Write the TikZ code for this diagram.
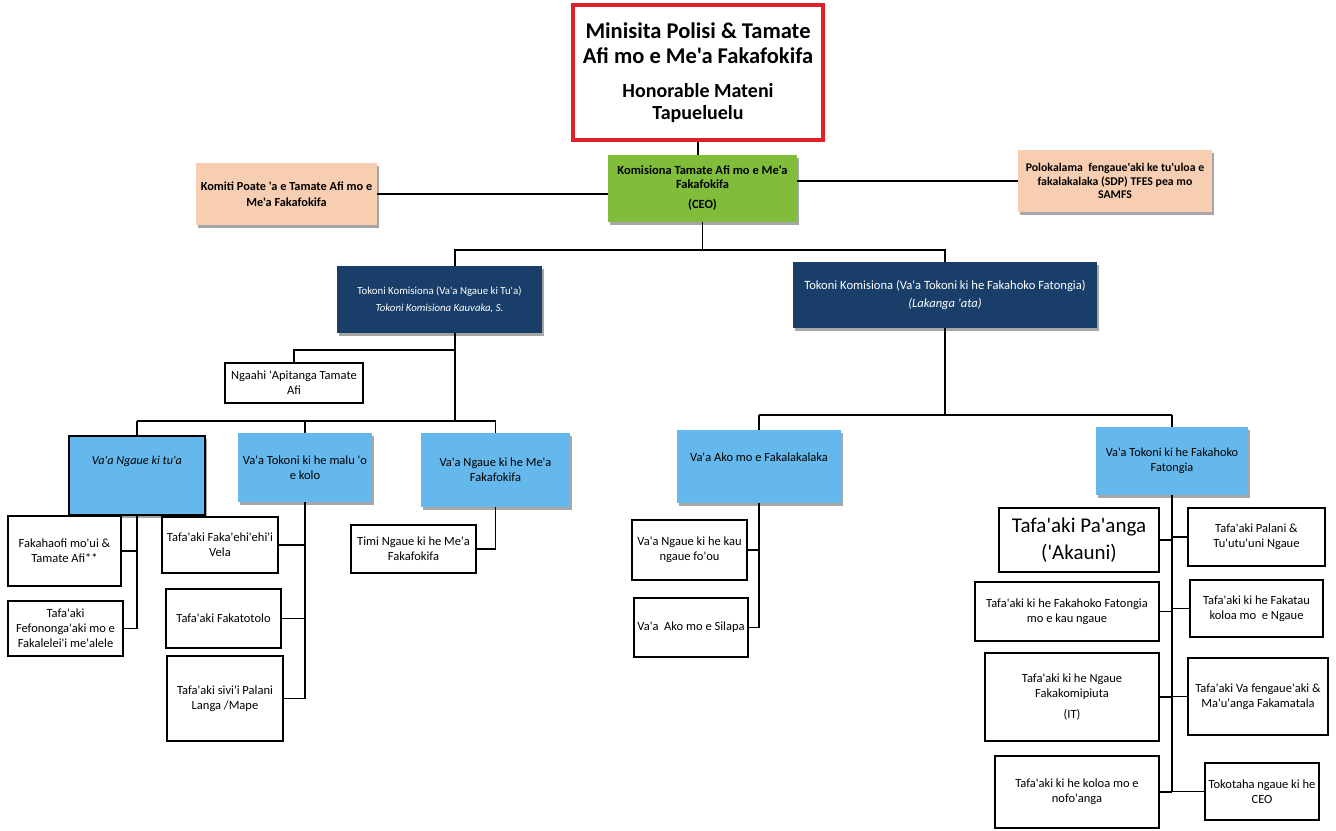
\documentclass[tikz,border=0pt]{standalone}
\usepackage{fontspec}
\setmainfont{Carlito}[Ligatures=TeXOff]
\usetikzlibrary{shadows}
\definecolor{redb}{RGB}{226,32,40}
\definecolor{greenb}{RGB}{128,189,58}
\definecolor{peach}{RGB}{248,206,178}
\definecolor{navy}{RGB}{24,62,105}
\definecolor{lblue}{RGB}{100,184,236}
\newcommand{\fsz}[2]{\fontsize{#1}{#2}\selectfont}
\tikzset{
  corners/.style n args={4}{at={({(#1+#3)/2},{(#2+#4)/2})}, minimum width={(#3-#1)*1pt}, minimum height={(#4-#2)*1pt}},
  base/.style={rectangle, inner sep=0pt, align=center, font=\fsz{12.5}{15}},
  shad/.style={drop shadow={shadow xshift=1.5pt, shadow yshift=-2.5pt, opacity=0.35, fill=black}},
  wbox/.style={base, draw=black, line width=1.8pt, fill=white},
  minbox/.style={base, draw=redb, line width=4.5pt, fill=white},
  gbox/.style={base, fill=greenb, shad, font=\fsz{12.5}{14}\bfseries},
  pbox/.style={base, fill=peach, shad},
  nbox/.style={base, fill=navy, shad, text=white},
  lbox/.style={base, fill=lblue, shad},
  conn/.style={line width=1.2pt, black}
}
\begin{document}
\begin{tikzpicture}[x=1pt,y=-1pt]
\useasboundingbox (0,0) rectangle (1336,830);
% top level
\node[minbox, corners={573}{5}{823}{140}, font=\fsz{22.5}{25}\bfseries] (min) {Minisita Polisi \& Tamate\\ Afi mo e Me'a Fakafokifa\\[9pt] \fsz{20}{22}\bfseries Honorable Mateni\\[-3pt] \fsz{20}{22}\bfseries Tapueluelu};
\node[gbox, corners={608}{155}{797}{222}] (green) {Komisiona Tamate Afi mo e Me'a\\ Fakafokifa\\[6pt] (CEO)};
\node[pbox, corners={196}{163}{377}{225}, font=\fsz{12.3}{16.5}\bfseries] (peachL) {Komiti Poate 'a e Tamate Afi mo e\\ Me'a Fakafokifa};
\node[pbox, corners={1018}{150}{1212}{212}, font=\fsz{11.8}{13.5}\bfseries] (peachR) {Polokalama\ \ fengaue'aki ke tu'uloa e\\ fakalakalaka (SDP) TFES pea mo\\ SAMFS};
\node[nbox, corners={337}{266}{542}{333}, font=\fsz{10.8}{13}] (dbL) {Tokoni Komisiona (Va'a Ngaue ki Tu'a)\\[4pt] \itshape Tokoni Komisiona Kauvaka, S.};
\node[nbox, corners={793}{262}{1097}{328}, font=\fsz{12.6}{15}] (dbR) {Tokoni Komisiona (Va'a Tokoni ki he Fakahoko Fatongia)\\[3pt] \itshape (Lakanga 'ata)};
% left branch
\node[wbox, corners={225}{363}{363}{403}] (ngaahi) {Ngaahi 'Apitanga Tamate\\ Afi};
\node[lbox, draw=black, line width=2pt, corners={69}{436}{205}{515},
  label={[anchor=north, yshift=-17pt, font=\fsz{12.2}{15}\itshape]north:Va'a Ngaue ki tu'a}] (lb1) {};
\node[lbox, corners={238}{433}{372}{502}] (lb2) {Va'a Tokoni ki he malu 'o\\ e kolo};
\node[lbox, corners={421}{433}{570}{507}] (lb3) {Va'a Ngaue ki he Me'a\\ Fakafokifa};
\node[wbox, corners={8}{516}{121}{586}] (f1) {Fakahaofi mo'ui \&\\ Tamate Afi**};
\node[wbox, corners={8}{601}{123}{656}] (f2) {Tafa'aki\\ Fefononga'aki mo e\\ Fakalelei'i me'alele};
\node[wbox, corners={162}{517}{278}{573}] (m1) {Tafa'aki Faka'ehi'ehi'i\\ Vela};
\node[wbox, corners={166}{589}{281}{648}] (m2) {Tafa'aki Fakatotolo};
\node[wbox, corners={167}{656}{283}{741}] (m3) {Tafa'aki sivi'i Palani\\ Langa /Mape};
\node[wbox, corners={351}{525}{476}{573}] (t1) {Timi Ngaue ki he Me'a\\ Fakafokifa};
% right branch
\node[lbox, corners={677}{430}{841}{503},
  label={[anchor=north, yshift=-19pt, font=\fsz{12.5}{15}]north:Va'a Ako mo e Fakalakalaka}] (lb4) {};
\node[lbox, corners={1096}{427}{1248}{495}, font=\fsz{12.3}{15}] (lb5) {Va'a Tokoni ki he Fakahoko\\ Fatongia};
\node[wbox, corners={632}{520}{747}{580}] (a1) {Va'a Ngaue ki he kau\\ ngaue fo'ou};
\node[wbox, corners={634}{598}{748}{657}] (a2) {Va'a\ \ Ako mo e Silapa};
\node[wbox, corners={999}{508}{1159}{572}, font=\fsz{21}{27}] (r1) {Tafa'aki Pa'anga\\ ('Akauni)};
\node[wbox, corners={1188}{508}{1325}{566}] (r2) {Tafa'aki Palani \&\\ Tu'utu'uni Ngaue};
\node[wbox, corners={975}{582}{1159}{641}] (r3) {Tafa'aki ki he Fakahoko Fatongia\\ mo e kau ngaue};
\node[wbox, corners={1190}{580}{1323}{637}] (r4) {Tafa'aki ki he Fakatau\\ koloa mo\ \ e Ngaue};
\node[wbox, corners={985}{653}{1159}{741}] (r5) {Tafa'aki ki he Ngaue\\ Fakakomipiuta\\[6pt] (IT)};
\node[wbox, corners={1188}{658}{1328}{735}] (r6) {Tafa'aki Va fengaue'aki \&\\ Ma'u'anga Fakamatala};
\node[wbox, corners={995}{756}{1159}{828}] (r7) {Tafa'aki ki he koloa mo e\\ nofo'anga};
\node[wbox, corners={1205}{763}{1319}{820}] (r8) {Tokotaha ngaue ki he\\ CEO};
% junction coordinates
\coordinate (jL) at (455,250);
\coordinate (jN) at (455,350);
\coordinate (jL2) at (455,421);
\coordinate (jR2) at (945,415);
% connectors top
\draw[conn] (min.south) -- (min.south |- green.north);
\draw[conn] (peachL.east) -- (peachL.east -| green.west);
\draw[conn] (peachR.west) -- (peachR.west -| green.east);
\draw[conn] (green.south) -- (green.south |- jL);
\draw[conn] (jL |- dbL.north) -- (jL) -- (jL -| dbR.north) -- (dbR.north);
% left subtree
\draw[conn] (jL |- dbL.south) -- (jL2);
\draw[conn] (jN) -- (jN -| ngaahi.north) -- (ngaahi.north);
\draw[conn] (lb1.north |- jL2) -- (lb3.north |- jL2);
\draw[conn] (lb1.north |- jL2) -- (lb1.north);
\draw[conn] (lb2.north |- jL2) -- (lb2.north);
\draw[conn] (lb3.north |- jL2) -- (lb3.north);
\draw[conn] (lb1.south) -- (lb1.south |- f2.east);
\draw[conn] (f1.east) -- (f1.east -| lb1.south);
\draw[conn] (f2.east) -- (f2.east -| lb1.south);
\draw[conn] (lb2.south) -- (lb2.south |- m3.east);
\draw[conn] (m1.east) -- (m1.east -| lb2.south);
\draw[conn] (m2.east) -- (m2.east -| lb2.south);
\draw[conn] (m3.east) -- (m3.east -| lb2.south);
\draw[conn] (lb3.south) -- (lb3.south |- t1.east) -- (t1.east);
% right subtree
\draw[conn] (dbR.south) -- (jR2);
\draw[conn] (lb4.north |- jR2) -- (lb5.north |- jR2);
\draw[conn] (lb4.north |- jR2) -- (lb4.north);
\draw[conn] (lb5.north |- jR2) -- (lb5.north);
\draw[conn] (lb4.south) -- (lb4.south |- a2.east);
\draw[conn] (a1.east) -- (a1.east -| lb4.south);
\draw[conn] (a2.east) -- (a2.east -| lb4.south);
\draw[conn] (lb5.south) -- (lb5.south |- r7.east);
\draw[conn] (r1.east) -- (r1.east -| lb5.south);
\draw[conn] (r3.east) -- (r3.east -| lb5.south);
\draw[conn] (r5.east) -- (r5.east -| lb5.south);
\draw[conn] (r7.east) -- (r7.east -| lb5.south);
\draw[conn] (r2.west) -- (r2.west -| lb5.south);
\draw[conn] (r4.west) -- (r4.west -| lb5.south);
\draw[conn] (r6.west) -- (r6.west -| lb5.south);
\draw[conn] (r8.west) -- (r8.west -| lb5.south);
\end{tikzpicture}
\end{document}
